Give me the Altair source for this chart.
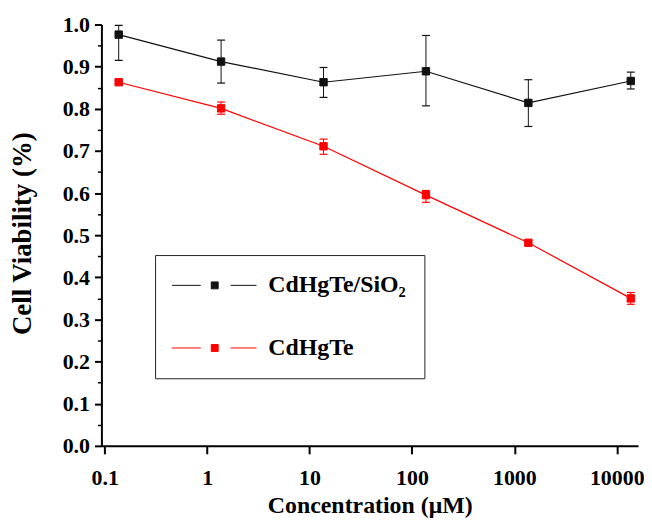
import altair as alt
import pandas as pd

# ---- data ----
conc = [0.137, 1.37, 13.7, 137, 1370, 13700]
series_names = ["CdHgTe/SiO₂", "CdHgTe"]
sio2_mean = [0.976, 0.912, 0.863, 0.889, 0.814, 0.866]
sio2_hi = [0.998, 0.963, 0.898, 0.974, 0.869, 0.887]
sio2_lo = [0.915, 0.861, 0.827, 0.807, 0.758, 0.847]
cd_mean = [0.863, 0.801, 0.711, 0.595, 0.482, 0.350]
cd_hi = [0.868, 0.816, 0.728, 0.606, 0.487, 0.364]
cd_lo = [0.858, 0.787, 0.692, 0.578, 0.477, 0.336]
x_ticks = [0.1, 1, 10, 100, 1000, 10000]
y_ticks = [0.0, 0.1, 0.2, 0.3, 0.4, 0.5, 0.6, 0.7, 0.8, 0.9, 1.0]
y_minor = [0.05, 0.15, 0.25, 0.35, 0.45, 0.55, 0.65, 0.75, 0.85, 0.95]
colors = ["#111111", "#ff0000"]

rows = []
for name, m, hi, lo in [(series_names[0], sio2_mean, sio2_hi, sio2_lo),
                        (series_names[1], cd_mean, cd_hi, cd_lo)]:
    for c, a, b, d in zip(conc, m, hi, lo):
        rows.append({"series": name, "conc": c, "v": a, "hi": b, "lo": d})
df = pd.DataFrame(rows)

FONT = "Liberation Serif"

xscale = alt.Scale(type="log", domain=[0.0929, 16130], nice=False)
yscale = alt.Scale(domain=[0, 1], nice=False, zero=True)

xaxis = alt.Axis(values=x_ticks, format="~g", tickSize=8, tickWidth=2, domainWidth=2,
                 labelPadding=31, labelBaseline="alphabetic", labelFont=FONT,
                 labelFontSize=22, labelFontWeight="bold", labelFlush=False,
                 labelOverlap=False, grid=False, title="Concentration (μM)",
                 titleFont=FONT, titleFontSize=24, titleFontWeight="bold",
                 titleY=67.5, titleBaseline="alphabetic")
yaxis = alt.Axis(values=y_ticks, format=".1f", tickSize=7, tickWidth=2, domainWidth=2,
                 labelPadding=5, labelFont=FONT, labelFontSize=22, labelFontWeight="bold",
                 grid=False, orient="left", title="Cell Viability (%)", titleFont=FONT,
                 titleFontSize=27, titleFontWeight="bold", titleX=-79, titleY=210,
                 titleAngle=270, titleBaseline="middle", titleAlign="center")
yminor = alt.Axis(values=y_minor, tickSize=4, tickWidth=1.5, labels=False, domain=False,
                  grid=False, orient="left", title=None)

cscale = alt.Scale(domain=series_names, range=colors)

sym = "M-1.125,0H1.29M2.17,-0.29H2.75V0.29H2.17ZM3.79,0H5.96"
legend = alt.Legend(title=None, orient="none", legendX=54, legendY=232, padding=18,
                    strokeColor="#222222", fillColor="white", labelFont=FONT,
                    labelFontSize=24, labelFontWeight="bold", labelColor="black",
                    symbolType=sym, symbolSize=576, symbolStrokeWidth=1,
                    labelOffset=71, rowPadding=38, labelLimit=400, cornerRadius=0)

base = alt.Chart(df)

lines = base.mark_line(strokeWidth=1.2).encode(
    x=alt.X("conc:Q", scale=xscale, axis=xaxis),
    y=alt.Y("v:Q", scale=yscale, axis=yaxis),
    stroke=alt.Stroke("series:N", scale=cscale, legend=legend),
    detail="series:N",
)

rules = base.mark_rule(strokeWidth=1).encode(
    x=alt.X("conc:Q", scale=xscale, axis=xaxis),
    y=alt.Y("lo:Q", scale=yscale, axis=yminor),
    y2="hi:Q",
    stroke=alt.Stroke("series:N", scale=cscale, legend=legend),
)

caps_hi = base.mark_tick(orient="horizontal", size=8, thickness=1.2, opacity=1).encode(
    x=alt.X("conc:Q", scale=xscale, axis=xaxis),
    y=alt.Y("hi:Q", scale=yscale, axis=None),
    fill=alt.Fill("series:N", scale=cscale, legend=legend),
)
caps_lo = base.mark_tick(orient="horizontal", size=8, thickness=1.2, opacity=1).encode(
    x=alt.X("conc:Q", scale=xscale, axis=xaxis),
    y=alt.Y("lo:Q", scale=yscale, axis=None),
    fill=alt.Fill("series:N", scale=cscale, legend=legend),
)

points = base.mark_point(shape="square", size=55, filled=True, opacity=1, strokeWidth=1).encode(
    x=alt.X("conc:Q", scale=xscale, axis=xaxis),
    y=alt.Y("v:Q", scale=yscale, axis=None),
    fill=alt.Fill("series:N", scale=cscale, legend=legend),
    stroke=alt.Stroke("series:N", scale=cscale, legend=legend),
)

chart = alt.layer(lines, rules, caps_hi, caps_lo, points).resolve_axis(
    y="independent"
).properties(
    width=540, height=424,
    autosize=alt.AutoSizeParams(type="none"),
    padding={"left": 94, "top": 15, "right": 6, "bottom": 74},
).configure_view(stroke=None).configure_axis(
    domainColor="black", tickColor="black", labelColor="black", titleColor="black"
)

chart.save("out.html", embed_options={"renderer": "svg", "actions": False})
